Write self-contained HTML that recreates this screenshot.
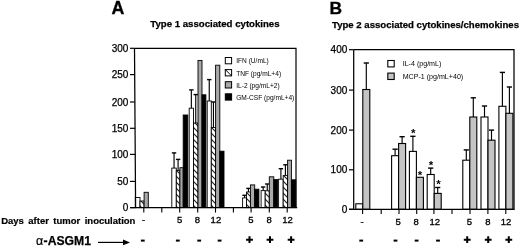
<!DOCTYPE html>
<html><head><meta charset="utf-8"><style>
html,body{margin:0;padding:0;background:#fff;}
body{width:520px;height:246px;overflow:hidden;}
svg{display:block;font-family:"Liberation Sans", sans-serif;filter:grayscale(1) blur(0.3px);}
</style></head><body>
<svg width="520" height="246" viewBox="0 0 520 246" font-family='"Liberation Sans", sans-serif'>
<rect width="520" height="246" fill="#fff"/>
<defs><pattern id="hatch" patternUnits="userSpaceOnUse" width="6" height="6" x="0" y="0"><rect width="6" height="6" fill="#fff"/><path d="M-1,-1 L7,7 M-1,5 L1,7 M5,-1 L7,1" stroke="#222" stroke-width="1.15"/></pattern></defs>
<rect x="135.3" y="197.5" width="4.7" height="10.1" fill="#fff" stroke="#000" stroke-width="0.9"/>
<rect x="140" y="201" width="4.1" height="6.6" fill="url(#hatch)" stroke="#000" stroke-width="0.9"/>
<rect x="144.1" y="192.3" width="4.2" height="15.3" fill="#a8a8a8" stroke="#000" stroke-width="0.9"/>
<path d="M174.05,168.1 V152.9" stroke="#000" stroke-width="1.15" fill="none"/>
<path d="M171.85,152.9 H176.25" stroke="#000" stroke-width="1.4" fill="none"/>
<rect x="171.8" y="168.1" width="4.5" height="39.5" fill="#fff" stroke="#000" stroke-width="0.9"/>
<path d="M178.1,170.6 V159.4" stroke="#000" stroke-width="1.15" fill="none"/>
<path d="M175.9,159.4 H180.3" stroke="#000" stroke-width="1.4" fill="none"/>
<rect x="176.3" y="170.6" width="3.6" height="37" fill="url(#hatch)" stroke="#000" stroke-width="0.9"/>
<rect x="179.9" y="167.7" width="3.3" height="39.9" fill="#a8a8a8" stroke="#000" stroke-width="0.9"/>
<rect x="183.2" y="115" width="4.6" height="92.6" fill="#000" stroke="#000" stroke-width="0.9"/>
<path d="M191.35,108.2 V89.9" stroke="#000" stroke-width="1.15" fill="none"/>
<path d="M189.15,89.9 H193.55" stroke="#000" stroke-width="1.4" fill="none"/>
<rect x="189.2" y="108.2" width="4.3" height="99.4" fill="#fff" stroke="#000" stroke-width="0.9"/>
<path d="M195.75,123 V94.6" stroke="#000" stroke-width="1.15" fill="none"/>
<path d="M193.55,94.6 H197.95" stroke="#000" stroke-width="1.4" fill="none"/>
<rect x="193.5" y="123" width="4.5" height="84.6" fill="url(#hatch)" stroke="#000" stroke-width="0.9"/>
<rect x="198" y="60.5" width="4" height="147.1" fill="#a8a8a8" stroke="#000" stroke-width="0.9"/>
<rect x="202" y="94.8" width="3.9" height="112.8" fill="#000" stroke="#000" stroke-width="0.9"/>
<path d="M209.25,101 V79.6" stroke="#000" stroke-width="1.15" fill="none"/>
<path d="M207.05,79.6 H211.45" stroke="#000" stroke-width="1.4" fill="none"/>
<rect x="207.2" y="101" width="4.1" height="106.6" fill="#fff" stroke="#000" stroke-width="0.9"/>
<path d="M213.45,127.5 V102" stroke="#000" stroke-width="1.15" fill="none"/>
<path d="M211.25,102 H215.65" stroke="#000" stroke-width="1.4" fill="none"/>
<rect x="211.3" y="127.5" width="4.3" height="80.1" fill="url(#hatch)" stroke="#000" stroke-width="0.9"/>
<rect x="215.6" y="65.2" width="4.2" height="142.4" fill="#a8a8a8" stroke="#000" stroke-width="0.9"/>
<rect x="219.8" y="151.2" width="4.2" height="56.4" fill="#000" stroke="#000" stroke-width="0.9"/>
<path d="M244.55,197.9 V195.3" stroke="#000" stroke-width="1.15" fill="none"/>
<path d="M242.35,195.3 H246.75" stroke="#000" stroke-width="1.4" fill="none"/>
<rect x="242.6" y="197.9" width="3.9" height="9.7" fill="#fff" stroke="#000" stroke-width="0.9"/>
<path d="M248.45,192 V188.4" stroke="#000" stroke-width="1.15" fill="none"/>
<path d="M246.25,188.4 H250.65" stroke="#000" stroke-width="1.4" fill="none"/>
<rect x="246.5" y="192" width="3.9" height="15.6" fill="url(#hatch)" stroke="#000" stroke-width="0.9"/>
<rect x="250.4" y="184.9" width="4.3" height="22.7" fill="#a8a8a8" stroke="#000" stroke-width="0.9"/>
<rect x="254.7" y="189.2" width="4.2" height="18.4" fill="#000" stroke="#000" stroke-width="0.9"/>
<path d="M263.15,190.6 V187" stroke="#000" stroke-width="1.15" fill="none"/>
<path d="M260.95,187 H265.35" stroke="#000" stroke-width="1.4" fill="none"/>
<rect x="261.1" y="190.6" width="4.1" height="17" fill="#fff" stroke="#000" stroke-width="0.9"/>
<path d="M267.25,190.8 V184" stroke="#000" stroke-width="1.15" fill="none"/>
<path d="M265.05,184 H269.45" stroke="#000" stroke-width="1.4" fill="none"/>
<rect x="265.2" y="190.8" width="4.1" height="16.8" fill="url(#hatch)" stroke="#000" stroke-width="0.9"/>
<rect x="269.3" y="176.8" width="4.5" height="30.8" fill="#a8a8a8" stroke="#000" stroke-width="0.9"/>
<rect x="273.8" y="179.6" width="3.8" height="28" fill="#000" stroke="#000" stroke-width="0.9"/>
<path d="M280.9,179.2 V168.7" stroke="#000" stroke-width="1.15" fill="none"/>
<path d="M278.7,168.7 H283.1" stroke="#000" stroke-width="1.4" fill="none"/>
<rect x="278.6" y="179.2" width="4.6" height="28.4" fill="#fff" stroke="#000" stroke-width="0.9"/>
<path d="M285.4,175.6 V164.8" stroke="#000" stroke-width="1.15" fill="none"/>
<path d="M283.2,164.8 H287.6" stroke="#000" stroke-width="1.4" fill="none"/>
<rect x="283.2" y="175.6" width="4.4" height="32" fill="url(#hatch)" stroke="#000" stroke-width="0.9"/>
<rect x="287.6" y="160.2" width="3.8" height="47.4" fill="#a8a8a8" stroke="#000" stroke-width="0.9"/>
<rect x="291.4" y="179.8" width="4.4" height="27.8" fill="#000" stroke="#000" stroke-width="0.9"/>
<path d="M134.5,48.3 L135.6,207.6" stroke="#000" stroke-width="1.25" fill="none"/>
<path d="M130,207.6 H297.2 M134.5,48.3 H296 V207.6" stroke="#000" stroke-width="1.2" fill="none"/>
<path d="M130,207.6 H135.6" stroke="#000" stroke-width="1.2"/>
<text x="128.4" y="211.25" text-anchor="end" font-size="10" stroke="#000" stroke-width="0.25">0</text>
<path d="M130,181.4 H135.42" stroke="#000" stroke-width="1.2"/>
<text x="128.4" y="185.05" text-anchor="end" font-size="10" stroke="#000" stroke-width="0.25">50</text>
<path d="M130,154.4 H135.23" stroke="#000" stroke-width="1.2"/>
<text x="128.4" y="158.05" text-anchor="end" font-size="10" stroke="#000" stroke-width="0.25">100</text>
<path d="M130,128.3 H135.05" stroke="#000" stroke-width="1.2"/>
<text x="128.4" y="131.95" text-anchor="end" font-size="10" stroke="#000" stroke-width="0.25">150</text>
<path d="M130,102 H134.87" stroke="#000" stroke-width="1.2"/>
<text x="128.4" y="105.65" text-anchor="end" font-size="10" stroke="#000" stroke-width="0.25">200</text>
<path d="M130,74.6 H134.68" stroke="#000" stroke-width="1.2"/>
<text x="128.4" y="78.25" text-anchor="end" font-size="10" stroke="#000" stroke-width="0.25">250</text>
<path d="M130,48.3 H134.5" stroke="#000" stroke-width="1.2"/>
<text x="128.4" y="51.95" text-anchor="end" font-size="10" stroke="#000" stroke-width="0.25">300</text>
<path d="M143.8,207.6 V212.6" stroke="#000" stroke-width="1.1"/>
<path d="M161.8,207.6 V212.6" stroke="#000" stroke-width="1.1"/>
<path d="M179.7,207.6 V212.6" stroke="#000" stroke-width="1.1"/>
<path d="M197.7,207.6 V212.6" stroke="#000" stroke-width="1.1"/>
<path d="M215.5,207.6 V212.6" stroke="#000" stroke-width="1.1"/>
<path d="M233.4,207.6 V212.6" stroke="#000" stroke-width="1.1"/>
<path d="M251.1,207.6 V212.6" stroke="#000" stroke-width="1.1"/>
<path d="M269.3,207.6 V212.6" stroke="#000" stroke-width="1.1"/>
<path d="M287.2,207.6 V212.6" stroke="#000" stroke-width="1.1"/>
<rect x="355.8" y="203.8" width="7" height="5.5" fill="#fff" stroke="#000" stroke-width="1.1"/>
<path d="M366.3,89.5 V63" stroke="#000" stroke-width="1.15" fill="none"/>
<path d="M363.7,63 H368.9" stroke="#000" stroke-width="1.4" fill="none"/>
<rect x="362.8" y="89.5" width="7" height="119.8" fill="#c4c4c4" stroke="#000" stroke-width="1.1"/>
<path d="M395.1,155.7 V149.2" stroke="#000" stroke-width="1.15" fill="none"/>
<path d="M392.5,149.2 H397.7" stroke="#000" stroke-width="1.4" fill="none"/>
<rect x="391.6" y="155.7" width="7" height="53.6" fill="#fff" stroke="#000" stroke-width="1.1"/>
<path d="M402.1,143.5 V136.7" stroke="#000" stroke-width="1.15" fill="none"/>
<path d="M399.5,136.7 H404.7" stroke="#000" stroke-width="1.4" fill="none"/>
<rect x="398.6" y="143.5" width="7" height="65.8" fill="#c4c4c4" stroke="#000" stroke-width="1.1"/>
<path d="M412.9,151.4 V136.3" stroke="#000" stroke-width="1.15" fill="none"/>
<path d="M410.3,136.3 H415.5" stroke="#000" stroke-width="1.4" fill="none"/>
<rect x="409.4" y="151.4" width="7" height="57.9" fill="#fff" stroke="#000" stroke-width="1.1"/>
<rect x="416.4" y="177.3" width="7" height="32" fill="#c4c4c4" stroke="#000" stroke-width="1.1"/>
<path d="M430.7,174.5 V168.1" stroke="#000" stroke-width="1.15" fill="none"/>
<path d="M428.1,168.1 H433.3" stroke="#000" stroke-width="1.4" fill="none"/>
<rect x="427.2" y="174.5" width="7" height="34.8" fill="#fff" stroke="#000" stroke-width="1.1"/>
<path d="M437.7,193.4 V187.5" stroke="#000" stroke-width="1.15" fill="none"/>
<path d="M435.1,187.5 H440.3" stroke="#000" stroke-width="1.4" fill="none"/>
<rect x="434.2" y="193.4" width="7" height="15.9" fill="#c4c4c4" stroke="#000" stroke-width="1.1"/>
<path d="M466.3,160.2 V149.9" stroke="#000" stroke-width="1.15" fill="none"/>
<path d="M463.7,149.9 H468.9" stroke="#000" stroke-width="1.4" fill="none"/>
<rect x="462.8" y="160.2" width="7" height="49.1" fill="#fff" stroke="#000" stroke-width="1.1"/>
<path d="M473.3,117 V97.8" stroke="#000" stroke-width="1.15" fill="none"/>
<path d="M470.7,97.8 H475.9" stroke="#000" stroke-width="1.4" fill="none"/>
<rect x="469.8" y="117" width="7" height="92.3" fill="#c4c4c4" stroke="#000" stroke-width="1.1"/>
<path d="M484.5,117 V106" stroke="#000" stroke-width="1.15" fill="none"/>
<path d="M481.9,106 H487.1" stroke="#000" stroke-width="1.4" fill="none"/>
<rect x="481" y="117" width="7" height="92.3" fill="#fff" stroke="#000" stroke-width="1.1"/>
<path d="M491.5,140.2 V130.1" stroke="#000" stroke-width="1.15" fill="none"/>
<path d="M488.9,130.1 H494.1" stroke="#000" stroke-width="1.4" fill="none"/>
<rect x="488" y="140.2" width="7" height="69.1" fill="#c4c4c4" stroke="#000" stroke-width="1.1"/>
<path d="M502.4,106.3 V72.4" stroke="#000" stroke-width="1.15" fill="none"/>
<path d="M499.8,72.4 H505" stroke="#000" stroke-width="1.4" fill="none"/>
<rect x="498.9" y="106.3" width="7" height="103" fill="#fff" stroke="#000" stroke-width="1.1"/>
<path d="M509.4,113.3 V87" stroke="#000" stroke-width="1.15" fill="none"/>
<path d="M506.8,87 H512" stroke="#000" stroke-width="1.4" fill="none"/>
<rect x="505.9" y="113.3" width="7" height="96" fill="#c4c4c4" stroke="#000" stroke-width="1.1"/>
<text x="413.3" y="137.4" text-anchor="middle" font-size="11.5" font-weight="bold">*</text>
<text x="420.1" y="179" text-anchor="middle" font-size="11.5" font-weight="bold">*</text>
<text x="431.1" y="168.7" text-anchor="middle" font-size="11.5" font-weight="bold">*</text>
<text x="438.5" y="188.2" text-anchor="middle" font-size="11.5" font-weight="bold">*</text>
<path d="M353.7,49.7 V209.3 M349,209.3 H514.7 M353.7,49.7 H514 V209.3" stroke="#000" stroke-width="1.25" fill="none"/>
<path d="M349,209.3 H353.7" stroke="#000" stroke-width="1.2"/>
<text x="347.3" y="212.95" text-anchor="end" font-size="10" stroke="#000" stroke-width="0.25">0</text>
<path d="M349,169.8 H353.7" stroke="#000" stroke-width="1.2"/>
<text x="347.3" y="173.45" text-anchor="end" font-size="10" stroke="#000" stroke-width="0.25">100</text>
<path d="M349,130.1 H353.7" stroke="#000" stroke-width="1.2"/>
<text x="347.3" y="133.75" text-anchor="end" font-size="10" stroke="#000" stroke-width="0.25">200</text>
<path d="M349,90.1 H353.7" stroke="#000" stroke-width="1.2"/>
<text x="347.3" y="93.75" text-anchor="end" font-size="10" stroke="#000" stroke-width="0.25">300</text>
<path d="M349,49.7 H353.7" stroke="#000" stroke-width="1.2"/>
<text x="347.3" y="53.35" text-anchor="end" font-size="10" stroke="#000" stroke-width="0.25">400</text>
<path d="M362.6,209.3 V214" stroke="#000" stroke-width="1.1"/>
<path d="M381.2,209.3 V214" stroke="#000" stroke-width="1.1"/>
<path d="M399,209.3 V214" stroke="#000" stroke-width="1.1"/>
<path d="M416.7,209.3 V214" stroke="#000" stroke-width="1.1"/>
<path d="M433.9,209.3 V214" stroke="#000" stroke-width="1.1"/>
<path d="M452,209.3 V214" stroke="#000" stroke-width="1.1"/>
<path d="M470,209.3 V214" stroke="#000" stroke-width="1.1"/>
<path d="M487.9,209.3 V214" stroke="#000" stroke-width="1.1"/>
<path d="M505.8,209.3 V214" stroke="#000" stroke-width="1.1"/>
<rect x="225.3" y="57.5" width="6.3" height="6.3" fill="#fff" stroke="#000" stroke-width="1.0"/>
<text x="236.2" y="63.3" font-size="6.6">IFN (U/mL)</text>
<rect x="225.3" y="69.6" width="6.3" height="6.3" fill="#fff" stroke="#000" stroke-width="1.0"/>
<path d="M225.3,69.6 L231.6,75.9" stroke="#000" stroke-width="1"/>
<text x="236.2" y="75.6" font-size="6.6">TNF (pg/mL+4)</text>
<rect x="225.3" y="81.7" width="6.3" height="6.3" fill="#a8a8a8" stroke="#000" stroke-width="1.0"/>
<text x="236.2" y="87.9" font-size="6.6">IL-2 (pg/mL+2)</text>
<rect x="225.3" y="93.8" width="6.3" height="6.3" fill="#000" stroke="#000" stroke-width="1.0"/>
<text x="236.2" y="100.2" font-size="6.6">GM-CSF (pg/mL+4)</text>
<rect x="387.8" y="60.5" width="6.4" height="6.4" fill="#fff" stroke="#000" stroke-width="1.1"/>
<text x="402.7" y="66.1" font-size="7.1">IL-4 (pg/mL)</text>
<rect x="387.8" y="73.1" width="6.4" height="6.4" fill="#c4c4c4" stroke="#000" stroke-width="1.1"/>
<text x="402.7" y="78.7" font-size="7.1">MCP-1 (pg/mL+40)</text>
<text x="111.4" y="13.9" font-size="17.8" font-weight="bold" stroke="#000" stroke-width="0.3">A</text>
<text x="329.4" y="13.8" font-size="17.4" font-weight="bold" stroke="#000" stroke-width="0.3">B</text>
<text x="150.3" y="27.2" font-size="9.65" font-weight="bold" stroke="#000" stroke-width="0.25">Type 1 associated cytokines</text>
<text x="332" y="27.6" font-size="9.6" font-weight="bold" stroke="#000" stroke-width="0.25">Type 2 associated cytokines/chemokines</text>
<text x="1.2" y="223.5" font-size="9.5" font-weight="bold" word-spacing="1.8" stroke="#000" stroke-width="0.2">Days after tumor inoculation</text>
<text x="143.7" y="223.1" text-anchor="middle" font-size="9.5" stroke="#000" stroke-width="0.3">-</text>
<text x="179.6" y="223.1" text-anchor="middle" font-size="9.5" stroke="#000" stroke-width="0.3">5</text>
<text x="197.3" y="223.1" text-anchor="middle" font-size="9.5" stroke="#000" stroke-width="0.3">8</text>
<text x="215.9" y="223.1" text-anchor="middle" font-size="9.5" stroke="#000" stroke-width="0.3">12</text>
<text x="250.8" y="223.1" text-anchor="middle" font-size="9.5" stroke="#000" stroke-width="0.3">5</text>
<text x="269.1" y="223.1" text-anchor="middle" font-size="9.5" stroke="#000" stroke-width="0.3">8</text>
<text x="287.5" y="223.1" text-anchor="middle" font-size="9.5" stroke="#000" stroke-width="0.3">12</text>
<text x="362.2" y="224.9" text-anchor="middle" font-size="9.5" stroke="#000" stroke-width="0.3">-</text>
<text x="398.1" y="224.9" text-anchor="middle" font-size="9.5" stroke="#000" stroke-width="0.3">5</text>
<text x="416.2" y="224.9" text-anchor="middle" font-size="9.5" stroke="#000" stroke-width="0.3">8</text>
<text x="434.8" y="224.9" text-anchor="middle" font-size="9.5" stroke="#000" stroke-width="0.3">12</text>
<text x="469.4" y="224.9" text-anchor="middle" font-size="9.5" stroke="#000" stroke-width="0.3">5</text>
<text x="488" y="224.9" text-anchor="middle" font-size="9.5" stroke="#000" stroke-width="0.3">8</text>
<text x="506" y="224.9" text-anchor="middle" font-size="9.5" stroke="#000" stroke-width="0.3">12</text>
<rect x="140.9" y="239.6" width="3.8" height="2" fill="#000"/>
<rect x="175.9" y="239.6" width="3.8" height="2" fill="#000"/>
<rect x="197.3" y="239.6" width="3.8" height="2" fill="#000"/>
<rect x="217.7" y="239.6" width="3.8" height="2" fill="#000"/>
<rect x="359.3" y="239.6" width="3.8" height="2" fill="#000"/>
<rect x="393.6" y="239.6" width="3.8" height="2" fill="#000"/>
<rect x="414.7" y="239.6" width="3.8" height="2" fill="#000"/>
<rect x="436.1" y="239.6" width="3.8" height="2" fill="#000"/>
<path d="M246.1,239.7 H252.9 M249.5,236.3 V243.1" stroke="#000" stroke-width="2"/>
<path d="M266.6,239.7 H273.4 M270,236.3 V243.1" stroke="#000" stroke-width="2"/>
<path d="M287.7,239.7 H294.5 M291.1,236.3 V243.1" stroke="#000" stroke-width="2"/>
<path d="M463.8,239.7 H470.6 M467.2,236.3 V243.1" stroke="#000" stroke-width="2"/>
<path d="M484.8,239.7 H491.6 M488.2,236.3 V243.1" stroke="#000" stroke-width="2"/>
<path d="M505.4,239.7 H512.2 M508.8,236.3 V243.1" stroke="#000" stroke-width="2"/>
<text x="36.1" y="245.1" font-size="12.4" stroke="#000" stroke-width="0.2">α</text>
<text x="43.6" y="245.1" font-size="12.2" font-weight="bold" stroke="#000" stroke-width="0.25">-ASGM1</text>
<path d="M98,242.4 H124" stroke="#000" stroke-width="1.2"/><path d="M123,239.6 L130,242.4 L123,245.2 Z" fill="#000"/>
</svg>
</body></html>
